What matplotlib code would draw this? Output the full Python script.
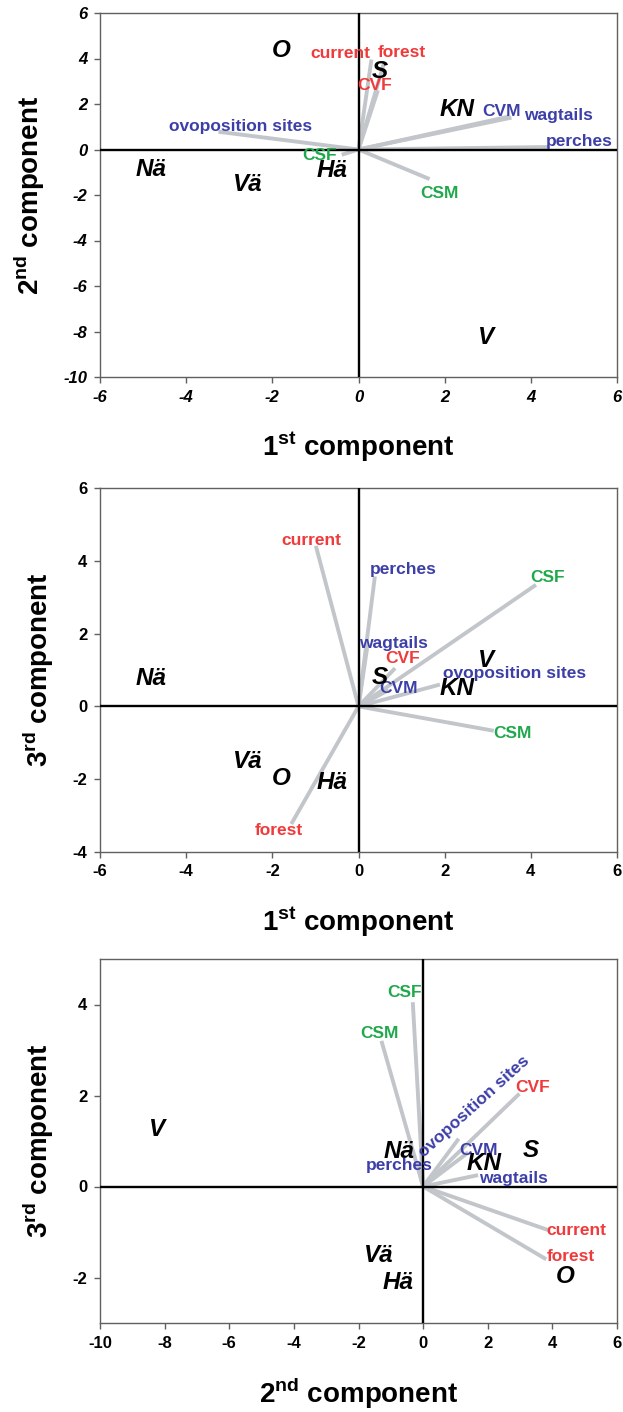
import matplotlib
matplotlib.use("Agg")
import matplotlib.pyplot as plt

plt.rcParams["font.family"] = ["Liberation Sans", "DejaVu Sans"]
plt.rcParams["mathtext.fontset"] = "custom"
plt.rcParams["mathtext.rm"] = "Liberation Sans"
plt.rcParams["mathtext.bf"] = "Liberation Sans:bold"
plt.rcParams["axes.unicode_minus"] = False

RED = "#ef3b3b"
BLUE = "#3d3fa8"
GREEN = "#1fa84c"
LINE_GRAY = "#c2c6ca"

# site scores: (PC1, PC2, PC3)
sites = ["O", "S", "KN", "Nä", "Vä", "Hä", "V"]
pc1_sites = [-1.80, 0.50, 2.28, -4.82, -2.56, -0.62, 2.95]
pc2_sites = [4.39, 3.34, 1.88, -0.74, -1.37, -0.79, -8.22]
pc3_sites = [-1.97, 0.80, 0.50, 0.76, -1.52, -2.10, 1.26]
# panel 1 uses measured PC2 values of that panel
pc2_sites_p1 = [4.34, 3.42, 1.74, -0.86, -1.53, -0.93, -8.25]

# loadings of the variables
variables = ["current", "forest", "CVF", "ovoposition sites", "CVM",
             "wagtails", "perches", "CSF", "CSM"]
var_colors = [RED, RED, RED, BLUE, BLUE, BLUE, BLUE, GREEN, GREEN]
# panel 1: PC1 vs PC2
p1_x = [0.30, 0.60, 0.45, -3.25, 3.50, 3.55, 4.44, -0.39, 1.65]
p1_y = [3.95, 3.85, 2.60, 0.78, 1.45, 1.40, 0.11, -0.23, -1.30]
# panel 2: PC1 vs PC3
p2_x = [-0.99, -1.56, 0.85, 1.89, 0.70, 0.20, 0.38, 4.12, 3.14]
p2_y = [4.41, -3.23, 1.05, 0.60, 0.45, 1.60, 3.57, 3.34, -0.67]
# panel 3: PC2 vs PC3
p3_x = [3.92, 3.81, 2.98, 1.10, 1.40, 1.70, -0.20, -0.32, -1.29]
p3_y = [-0.97, -1.60, 2.04, 1.05, 0.75, 0.25, 0.55, 4.05, 3.20]

# label offsets in pixels from the line tip (right, up)
p1_offsets = {"current": (-31, 6), "forest": (18, 9), "CVF": (-3, 5),
              "ovoposition sites": (22, 5), "CVM": (-8, 5), "wagtails": (47, 2),
              "perches": (29, 5), "CSF": (-22, -1), "CSM": (10, -14)}
p2_offsets = {"current": (-4, 5), "forest": (-12, -7), "CVF": (8, 10),
              "ovoposition sites": (75, 11), "CVM": (10, 2), "wagtails": (26, 5),
              "perches": (28, 7), "CSF": (12, 7), "CSM": (19, -3)}
p3_offsets = {"current": (27, 0), "forest": (25, 3), "CVF": (13, 6),
              "ovoposition sites": (15, 32), "CVM": (10, 2), "wagtails": (35, -3),
              "perches": (-17, -4), "CSF": (-8, 10), "CSM": (-2, 7)}

fig = plt.figure(figsize=(6.23, 14.12), dpi=100)
W, H = 623, 1412


def make_axes(top, bottom, left=100, right=617):
    return fig.add_axes([left / W, 1 - bottom / H, (right - left) / W, (bottom - top) / H])


def draw_panel(ax, xs, ys, sx, sy, offsets, xlim, ylim, xlabel, ylabel,
               italic_ticks=False, rotations=None):
    ax.set_xlim(*xlim)
    ax.set_ylim(*ylim)
    for x, y in zip(xs, ys):
        ax.plot([0, x], [0, y], color=LINE_GRAY, lw=2.8, solid_capstyle="butt", zorder=2)
    ax.axhline(0, color="black", lw=1.7, zorder=3)
    ax.axvline(0, color="black", lw=1.7, zorder=3)
    for name, x, y, c in zip(variables, xs, ys, var_colors):
        rot = 0 if rotations is None else rotations.get(name, 0)
        ax.annotate(name, (x, y), xytext=offsets[name], textcoords="offset pixels",
                    ha="center", va="center", color=c, fontsize=12.5,
                    fontweight="bold", rotation=rot, zorder=5)
    for name, x, y in zip(sites, sx, sy):
        ax.text(x, y, name, ha="center", va="center", fontsize=17.5,
                fontweight="bold", style="italic", color="black", zorder=6)
    for s in ax.spines.values():
        s.set_color("#606060")
        s.set_linewidth(1.0)
    ax.tick_params(direction="out", length=4, width=1, color="#606060",
                   labelsize=12, pad=5)
    style = "italic" if italic_ticks else "normal"
    for lab in ax.get_xticklabels() + ax.get_yticklabels():
        lab.set_fontweight("bold")
        lab.set_fontstyle(style)
    ax.set_xlabel(xlabel, fontsize=20, fontweight="bold", labelpad=18)
    ax.set_ylabel(ylabel, fontsize=20, fontweight="bold", labelpad=12)


ax1 = make_axes(13, 377)
ax1.set_xticks(range(-6, 7, 2))
ax1.set_yticks(range(-10, 7, 2))
draw_panel(ax1, p1_x, p1_y, pc1_sites, pc2_sites_p1, p1_offsets, (-6, 6), (-10, 6),
           r"1$^{\mathbf{st}}$ component", r"2$^{\mathbf{nd}}$ component",
           italic_ticks=True)

ax2 = make_axes(488, 852)
ax2.set_xticks(range(-6, 7, 2))
ax2.set_yticks(range(-4, 7, 2))
draw_panel(ax2, p2_x, p2_y, pc1_sites, pc3_sites, p2_offsets, (-6, 6), (-4, 6),
           r"1$^{\mathbf{st}}$ component", r"3$^{\mathbf{rd}}$ component")

ax3 = make_axes(959, 1323)
ax3.set_xticks(range(-10, 7, 2))
ax3.set_yticks(range(-2, 5, 2))
draw_panel(ax3, p3_x, p3_y, pc2_sites, pc3_sites, p3_offsets, (-10, 6), (-3, 5),
           r"2$^{\mathbf{nd}}$ component", r"3$^{\mathbf{rd}}$ component",
           rotations={"ovoposition sites": 42})

fig.savefig("out.png", dpi=100)
